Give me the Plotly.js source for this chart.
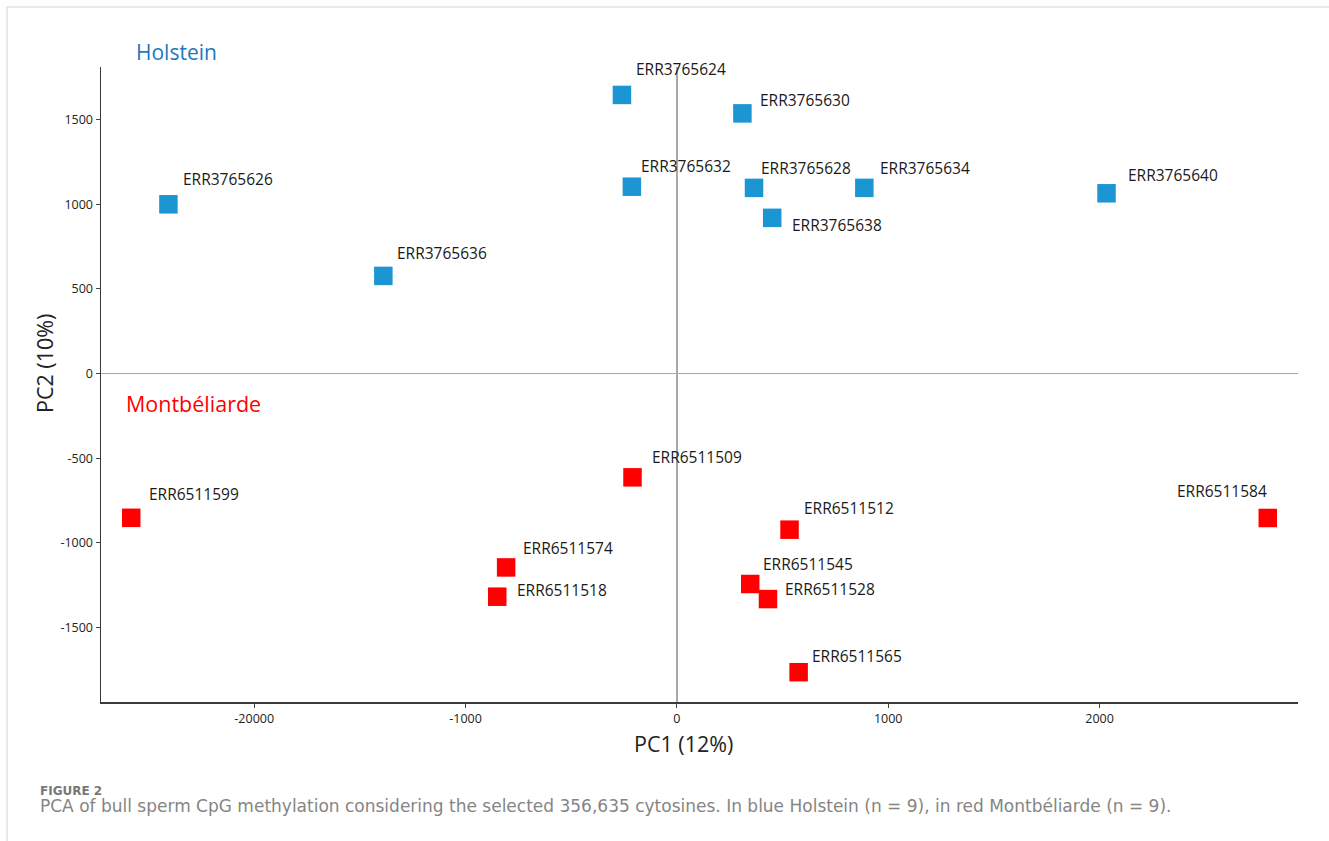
<!DOCTYPE html>
<html>
<head>
<meta charset="utf-8">
<script src="https://cdn.plot.ly/plotly-3.0.1.min.js"></script>
<style>
  html, body { margin: 0; padding: 0; background: #ffffff; }
  #chart { width: 1329px; height: 841px; }
</style>
</head>
<body>
<div id="chart"></div>
<script>
// PCA scores, Holstein bulls
const holsteinIds = ['ERR3765624', 'ERR3765630', 'ERR3765632', 'ERR3765628', 'ERR3765634',
                     'ERR3765638', 'ERR3765640', 'ERR3765626', 'ERR3765636'];
const holsteinPC1 = [-260, 310, -213, 365, 887, 451, 2033, -2406, -1389];
const holsteinPC2 = [1646, 1537, 1104, 1097, 1097, 920, 1065, 1000, 577];

// PCA scores, Montbéliarde bulls
const montbIds = ['ERR6511509', 'ERR6511512', 'ERR6511545', 'ERR6511528', 'ERR6511565',
                  'ERR6511599', 'ERR6511574', 'ERR6511518', 'ERR6511584'];
const montbPC1 = [-210, 533, 347, 431, 576, -2582, -808, -850, 2796];
const montbPC2 = [-613, -922, -1243, -1332, -1764, -852, -1145, -1318, -853];

// Axis ticks
const xTickVals = [-2000, -1000, 0, 1000, 2000];
const xTickText = ['-20000', '-1000', '0', '1000', '2000'];
const yTickVals = [-1500, -1000, -500, 0, 500, 1000, 1500];
const yTickText = ['-1500', '-1000', '-500', '0', '500', '1000', '1500'];

// Sample-label placement: pixel offset of the label from its marker centre
// [left-edge dx, vertical-centre dy, anchor]
const labelPlacement = {
  ERR3765624: [13, -26], ERR3765630: [17, -13], ERR3765632: [8, -21],
  ERR3765628: [6, -20],  ERR3765634: [15, -20], ERR3765638: [19, 7],
  ERR3765640: [20, -18], ERR3765626: [14, -25], ERR3765636: [13, -23],
  ERR6511509: [18, -20], ERR6511512: [13, -22], ERR6511545: [12, -20],
  ERR6511528: [16, -10], ERR6511565: [12, -16], ERR6511599: [17, -24],
  ERR6511574: [16, -19], ERR6511518: [19, -7],  ERR6511584: [0, -27, 'right']
};

const W = 1329, H = 841;
const M = { l: 101, r: 31, t: 67, b: 139 };
const plotW = W - M.l - M.r, plotH = H - M.t - M.b;
const px2x = px => (px - M.l) / plotW;
const py2y = py => (H - M.b - py) / plotH;

const BLUE = '#1b96d3';
const RED = '#ff0000';
const labelFont = { family: 'Open Sans, sans-serif', size: 15.5, color: '#1a1a1a' };

const traces = [
  {
    type: 'scatter', mode: 'markers', name: 'Holstein',
    x: holsteinPC1, y: holsteinPC2, text: holsteinIds,
    marker: { symbol: 'square', size: 18.5, color: BLUE, line: { width: 0 } },
    hoverinfo: 'skip', cliponaxis: false
  },
  {
    type: 'scatter', mode: 'markers', name: 'Montbéliarde',
    x: montbPC1, y: montbPC2, text: montbIds,
    marker: { symbol: 'square', size: 18.5, color: RED, line: { width: 0 } },
    hoverinfo: 'skip', cliponaxis: false
  }
];

function sampleLabels(ids, xs, ys) {
  return ids.map((id, i) => {
    const p = labelPlacement[id] || [12, -20];
    const anchor = p[2] || 'left';
    return {
      x: xs[i], y: ys[i], xref: 'x', yref: 'y',
      text: id, showarrow: false,
      xanchor: anchor, yanchor: 'middle',
      xshift: anchor === 'left' ? p[0] - 1 : p[0] + 1,
      yshift: -p[1],
      font: labelFont
    };
  });
}

const paperText = (text, px, py, opts) => Object.assign({
  text: text, xref: 'paper', yref: 'paper',
  x: px2x(px), y: py2y(py), showarrow: false,
  xanchor: 'left', yanchor: 'middle'
}, opts);

const annotations = []
  .concat(sampleLabels(holsteinIds, holsteinPC1, holsteinPC2))
  .concat(sampleLabels(montbIds, montbPC1, montbPC2))
  .concat([
    paperText('Holstein', 134, 52, { font: { family: 'Open Sans, sans-serif', size: 21, color: '#1c78c0' } }),
    paperText('Montbéliarde', 124, 403, { font: { family: 'Open Sans, sans-serif', size: 21.5, color: RED } }),
    paperText('PC1 (12%)', 683, 743, { xanchor: 'center', font: { family: 'Open Sans, sans-serif', size: 21.5, color: '#222' } }),
    paperText('PC2 (10%)', 44, 364, { xanchor: 'center', textangle: -90, font: { family: 'Open Sans, sans-serif', size: 21.5, color: '#222' } }),
    paperText('<b>FIGURE 2</b>', 38, 791, { font: { family: 'DejaVu Sans, sans-serif', size: 12, color: '#777' } }),
    paperText('PCA of bull sperm CpG methylation considering the selected 356,635 cytosines. In blue Holstein (n = 9), in red Montbéliarde (n = 9).',
      38, 806, { font: { family: 'DejaVu Sans, sans-serif', size: 17, color: '#858585' } })
  ]);

const frameColor = '#d4d4d4';
const shapes = [
  { type: 'line', xref: 'paper', yref: 'paper', x0: px2x(7), x1: px2x(7), y0: py2y(H), y1: py2y(7),
    line: { color: frameColor, width: 1 } },
  { type: 'line', xref: 'paper', yref: 'paper', x0: px2x(7), x1: px2x(W), y0: py2y(7), y1: py2y(7),
    line: { color: frameColor, width: 1 } }
];

const tickFont = { family: 'Open Sans, sans-serif', size: 12.5, color: '#222' };

const layout = {
  width: W, height: H,
  margin: M,
  paper_bgcolor: '#ffffff', plot_bgcolor: '#ffffff',
  showlegend: false,
  xaxis: {
    range: [-2725, 2939],
    tickmode: 'array', tickvals: xTickVals, ticktext: xTickText,
    ticks: 'outside', ticklen: 4, tickwidth: 1, tickcolor: '#444',
    tickfont: tickFont,
    showline: true, linecolor: '#3a3a3a', linewidth: 2,
    showgrid: false,
    zeroline: true, zerolinecolor: '#a8a8a8', zerolinewidth: 1.5
  },
  yaxis: {
    range: [-1940, 1811],
    tickmode: 'array', tickvals: yTickVals, ticktext: yTickText,
    ticks: 'outside', ticklen: 4, tickwidth: 1, tickcolor: '#444',
    tickfont: tickFont,
    showline: true, linecolor: '#3a3a3a', linewidth: 1.5,
    showgrid: false,
    zeroline: true, zerolinecolor: '#a8a8a8', zerolinewidth: 1.5
  },
  annotations: annotations,
  shapes: shapes
};

Plotly.newPlot('chart', traces, layout, { staticPlot: true, displayModeBar: false });
</script>
</body>
</html>
